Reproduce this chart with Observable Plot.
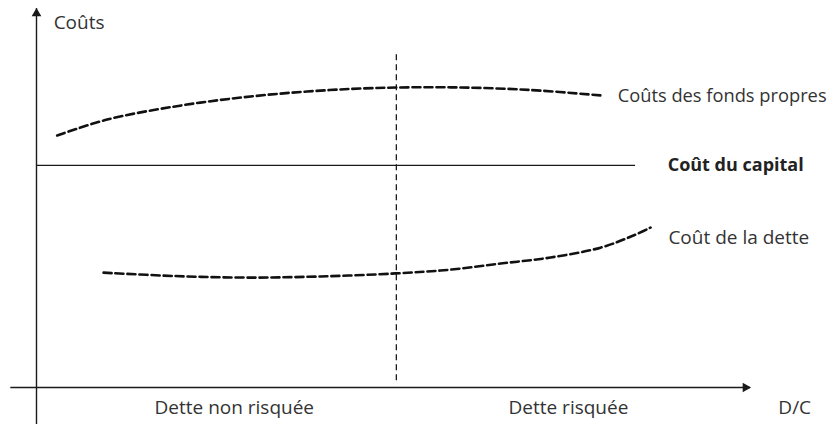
<!DOCTYPE html>
<html>
<head>
<meta charset="utf-8">
<script src="https://cdn.jsdelivr.net/npm/d3@7"></script>
<script src="https://cdn.jsdelivr.net/npm/@observablehq/plot@0.6"></script>
<style>
  html, body { margin: 0; padding: 0; background: white; }
</style>
</head>
<body>
<div id="chart"></div>
<script>
// Abstract units: x = D/C ratio (0..100), y = cost (0..100)
const equityX = [2.9, 9.9, 19.2, 28.6, 37.9, 47.2, 58.0, 69.2, 79.4];
const equityY = [66.5, 70.7, 74.1, 76.5, 78.1, 79.0, 79.2, 78.5, 77.0];

const debtX = [9.4, 19.5, 29.6, 39.8, 50.3, 58.0, 65.0, 72.0, 79.0, 83.6, 86.0];
const debtY = [30.3, 29.4, 29.0, 29.3, 30.1, 31.1, 32.7, 34.3, 36.9, 40.1, 42.2];

const capitalLevel = 58.6;
const capitalRange = [0, 83.9];

const thresholdX = 50.4;
const thresholdRange = [1.8, 87.9];

const axisXRange = [-3.6, 100];
const axisYRange = [-9.8, 100];

const labels = ["Coûts", "Coût de la dette", "D/C"];
const labelX = [2.4, 88.5, 103.9];
const labelY = [96.3, 39.6, -5.5];

const equityLabel = ["Coûts des fonds propres"];
const equityLabelX = [81.4];
const equityLabelY = [77.0];

const boldLabels = ["Coût du capital"];
const boldX = [88.4];
const boldY = [58.6];

const zoneLabels = ["Dette non risquée", "Dette risquée"];
const zoneX = [27.7, 74.5];
const zoneY = [-5.3, -5.3];

const equity = equityX.map((x, i) => ({x, y: equityY[i]}));
const debt = debtX.map((x, i) => ({x, y: debtY[i]}));
const textRows = labels.map((t, i) => ({t, x: labelX[i], y: labelY[i]}));
const equityRows = equityLabel.map((t, i) => ({t, x: equityLabelX[i], y: equityLabelY[i]}));
const boldRows = boldLabels.map((t, i) => ({t, x: boldX[i], y: boldY[i]}));
const zoneRows = zoneLabels.map((t, i) => ({t, x: zoneX[i], y: zoneY[i]}));

const ink = "#1a1a1a";
const textInk = "#333";

const chart = Plot.plot({
  width: 838,
  height: 424,
  marginLeft: 36,
  marginRight: 88,
  marginTop: 8,
  marginBottom: 37,
  x: {domain: [0, 100], axis: null},
  y: {domain: [0, 100], axis: null},
  style: {fontFamily: "'Open Sans', sans-serif", fontSize: "19px", background: "white", overflow: "visible"},
  marks: [
    // y axis
    Plot.ruleX([0], {y1: axisYRange[0], y2: axisYRange[1], stroke: ink, strokeWidth: 1.4}),
    Plot.dot([{x: 0, y: axisYRange[1]}], {x: "x", y: "y", symbol: "triangle", r: 3.6, fill: ink, stroke: "none", dy: 5}),
    // x axis
    Plot.ruleY([0], {x1: axisXRange[0], x2: axisXRange[1], stroke: ink, strokeWidth: 1.4}),
    Plot.dot([{x: axisXRange[1], y: 0}], {x: "x", y: "y", symbol: "triangle", r: 3.6, fill: ink, stroke: "none", rotate: 90, dx: -5}),
    // capital line
    Plot.ruleY([capitalLevel], {x1: capitalRange[0], x2: capitalRange[1], stroke: ink, strokeWidth: 1.1}),
    // threshold vertical dashed
    Plot.ruleX([thresholdX], {y1: thresholdRange[0], y2: thresholdRange[1], stroke: ink, strokeWidth: 1.3, strokeDasharray: "6,4"}),
    // curves
    Plot.line(equity, {x: "x", y: "y", curve: "catmull-rom", stroke: "#111", strokeWidth: 2.6, strokeDasharray: "8,4"}),
    Plot.line(debt, {x: "x", y: "y", curve: "catmull-rom", stroke: "#111", strokeWidth: 2.6, strokeDasharray: "8,4"}),
    // labels
    Plot.text(textRows, {x: "x", y: "y", text: "t", textAnchor: "start", fill: textInk, lineAnchor: "middle"}),
    Plot.text(equityRows, {x: "x", y: "y", text: "t", textAnchor: "start", fill: textInk, lineAnchor: "middle", fontSize: 18.3}),
    Plot.text(boldRows, {x: "x", y: "y", text: "t", textAnchor: "start", fill: "#222", fontWeight: "bold", lineAnchor: "middle", fontSize: 18}),
    Plot.text(zoneRows, {x: "x", y: "y", text: "t", textAnchor: "middle", fill: textInk, lineAnchor: "middle"})
  ]
});
document.getElementById("chart").appendChild(chart);
</script>
</body>
</html>
